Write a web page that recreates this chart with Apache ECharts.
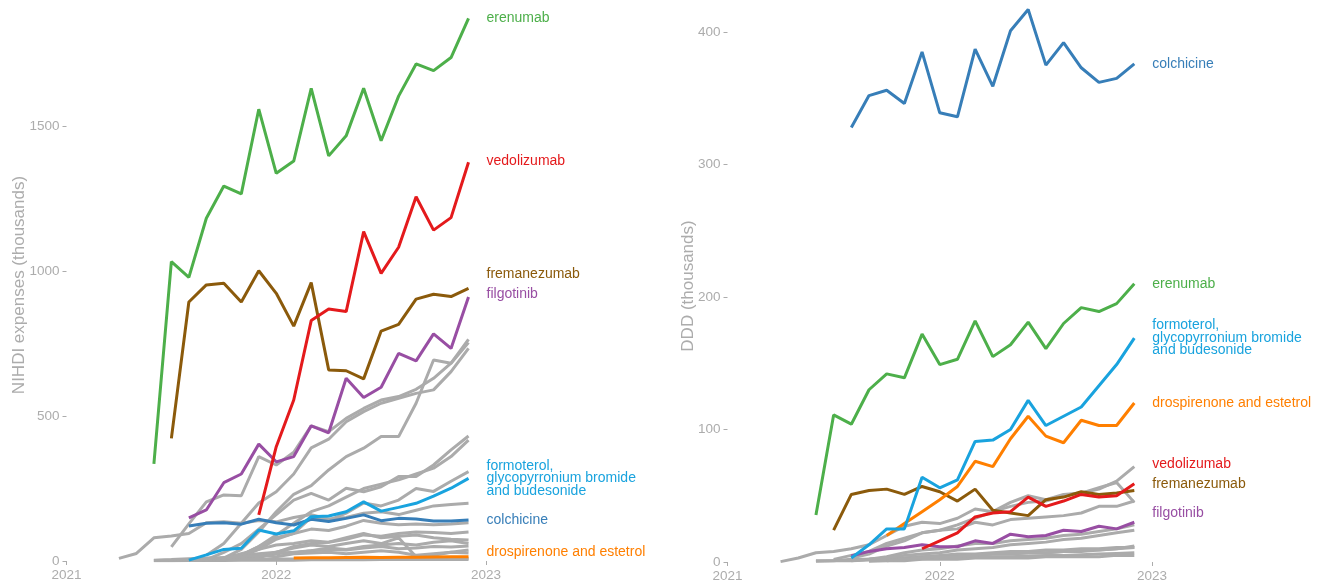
<!DOCTYPE html>
<html><head><meta charset="utf-8">
<script src="https://cdn.jsdelivr.net/npm/echarts@6/dist/echarts.min.js"></script>
<style>html,body{margin:0;padding:0;background:#fff}#c{width:1318px;height:581px}</style>
</head><body><div id="c"></div>
<script>
// ---------- tick labels ----------
const xTickLabels = ['2021', '2022', '2023'];
const leftTitle = 'NIHDI expenses (thousands)';
const rightTitle = 'DDD (thousands)';

// ---------- highlighted series: LEFT panel (NIHDI expenses, thousands) ----------
const L_erenumab = ['2021-06', [335,1032,978,1182,1293,1266,1558,1337,1379,1630,1397,1466,1630,1449,1603,1714,1691,1736,1871]];
const L_vedolizumab = ['2021-12', [159,394,555,829,869,860,1136,992,1082,1256,1141,1184,1375]];
const L_fremanezumab = ['2021-07', [423,893,952,958,893,1001,923,810,960,659,656,628,793,816,903,920,912,940]];
const L_filgotinib = ['2021-08', [149,176,270,300,403,342,360,466,442,630,564,599,716,690,783,733,910]];
const L_formoterol = ['2021-08', [3,21,40,44,107,93,104,153,155,170,204,172,185,199,224,251,285]];
const L_colchicine = ['2021-08', [121,130,132,127,144,132,124,144,136,147,159,139,147,145,138,138,141]];
const L_drospirenone = ['2022-02', [10,11,11,12,13,12,13,13,14,15,15]];

// ---------- highlighted series: RIGHT panel (DDD, thousands) ----------
const R_colchicine = ['2021-08', [328,352,356,346,385,339,336,387,359,401,417,375,392,373,362,365,376]];
const R_erenumab = ['2021-06', [35.5,111,104,130,142,139,172,149,153,182,155,164,181,161,180,192,189,195,210]];
const R_formoterol = ['2021-08', [3,13,25,25,64,56,62,91,92,100,122,103,110,117,133,149,169]];
const R_drospirenone = ['2021-10', [20,29,38,47,57,76,72,93,110,95,90,107,103,103,120]];
const R_vedolizumab = ['2021-12', [10,16,22,34,37,38,49,42,46,51,49,50,59]];
const R_fremanezumab = ['2021-07', [24,51,54,55,51,57,53,46,55,39,37,35,47,49,53,51,52,54]];
const R_filgotinib = ['2021-08', [4.5,8,10,11,13,11.5,11.5,16,14,21,19,20,24,23,27,25,30]];

// ---------- other (grey) products: LEFT ----------
const LG1 = ['2021-04', [9,26,80,86,95,132,135,130,140,135,150,160,145,150,165,170,160,175,190,195,199]];
const LG2 = ['2021-07', [49,128,204,228,225,360,331,375,466,446,492,526,555,567,592,630,682,764]];
const LG3 = ['2021-09', [20,60,130,200,239,300,390,420,480,515,544,561,578,590,653,733]];
const LG4 = ['2021-10', [10,40,100,170,230,260,314,360,389,429,429,544,693,682,753]];
const LG5 = ['2021-09', [5,30,60,110,160,210,233,210,251,239,256,291,291,331,383,431]];
const LG6 = ['2021-11', [20,50,90,130,170,190,220,250,265,280,300,320,360,417]];
const LG7 = ['2021-10', [5,15,40,75,95,150,140,165,200,190,210,250,240,275,308]];
const LG8 = ['2021-10', [5,20,50,80,95,110,105,120,140,130,125,128,125,128,132]];
const LG9 = ['2021-12', [10,30,50,60,65,75,90,85,95,100,98,95,100]];
const LG10 = ['2021-09', [3,10,25,40,55,60,70,65,80,95,80,85,90,80,75,72]];
const LG11 = ['2021-11', [5,15,30,45,55,50,60,70,60,80,15,20,30,38]];
const LG12 = ['2021-06', [2,3,4,5,5,6,6,7,7,7,8,8,8,8,9,9,9,9,9]];
const LG13 = ['2021-06', [1,1,2,2,2,3,3,3,3,4,4,4,4,5,5,5,5,5,5]];
const LG14 = ['2021-09', [5,10,20,25,30,28,35,40,38,45,50,42,45,50,48,52]];
const LG15 = ['2021-08', [2,5,10,15,20,25,30,35,45,40,50,55,60,55,65,70,60]];
const LG16 = ['2021-06', [3,5,8,10,12,15,20,15,25,28,30,25,30,35,30,20,25,30,28]];

// ---------- other (grey) products: RIGHT ----------
const RG1 = ['2021-04', [0.3,3,7,8,10,13,20,27,30,29,33,40,38,45,50,47,51,52,55,61,72]];
const RG2 = ['2021-07', [2,5,8,14,18,22,24,28,33,38,42,45,46,50,52,56,60,45]];
const RG3 = ['2021-08', [3,6,12,16,22,24,25,30,28,32,33,34,35,37,42,42,46]];
const RG4 = ['2021-09', [2,4,7,9,10,12,14,14,16,17,18,20,21,23,25,28]];
const RG5 = ['2021-06', [1,1,2,2,3,3,4,4,5,5,6,6,7,7,8,8,9,10,12]];
const RG6 = ['2021-06', [0.5,1,1,1.5,2,2,2.5,3,3,3.5,4,4,4.5,5,5,5.5,6,6.5,7]];
const RG7 = ['2021-09', [1,2,3,4,5,6,6,7,8,8,9,9,10,10,11,11]];
const RG8 = ['2021-09', [0.5,1,1,2,2,2,3,3,3,3,4,4,4,4,5,5]];
const RG9 = ['2021-08', [1,2,3,5,6,7,9,10,11,13,14,15,17,18,20,22,24]];
const RG10 = ['2021-10', [1,2,3,4,4,5,6,6,7,7,8,9,9,10,11]];

const leftGreys = [LG1,LG2,LG3,LG4,LG5,LG6,LG7,LG8,LG9,LG10,LG11,LG12,LG13,LG14,LG15,LG16];
const rightGreys = [RG1,RG2,RG3,RG4,RG5,RG6,RG7,RG8,RG9,RG10];

// ---------- helpers ----------
function mIdx(s) { const [y, m] = s.split('-').map(Number); return (y - 2021) * 12 + (m - 1); }
function toData(d) { const s = mIdx(d[0]); return d[1].map((v, i) => [s + i, v]); }

const FONT = 'Liberation Sans, Arial, Helvetica, sans-serif';
const GREY = '#ababab';
const AXC = '#acacac';

function greySeries(d, gi) {
  return { type: 'line', xAxisIndex: gi, yAxisIndex: gi, data: toData(d), showSymbol: false, symbol: 'none',
    lineStyle: { color: GREY, width: 3 }, silent: true, z: 2 };
}
function hlSeries(name, label, d, color, gi, dy) {
  return { type: 'line', name: name, xAxisIndex: gi, yAxisIndex: gi, data: toData(d), symbol: 'none',
    lineStyle: { color: color, width: 3 }, z: 3,
    endLabel: { show: true, formatter: label, color: color, fontSize: 14, fontFamily: FONT,
      distance: 18, offset: [0, dy], lineHeight: 12.5, align: 'left' } };
}

function xAxis(gi) {
  return { gridIndex: gi, type: 'value', min: 0, max: 24, interval: 12,
    axisLine: { show: false }, splitLine: { show: false },
    axisTick: { show: true, length: 4, lineStyle: { color: AXC, width: 1 } },
    axisLabel: { formatter: v => xTickLabels[v / 12] || '', color: AXC, fontSize: 13.5, fontFamily: FONT, margin: 7 } };
}
function yAxis(gi, max, interval, showMax) {
  return { gridIndex: gi, type: 'value', min: 0, max: max, interval: interval,
    axisLine: { show: false }, splitLine: { show: false },
    axisTick: { show: true, length: 4, lineStyle: { color: AXC, width: 1 } },
    axisLabel: { formatter: v => (v <= showMax ? String(v) : ''), color: AXC, fontSize: 13.5, fontFamily: FONT, margin: 7 } };
}

const series = [];
// left panel
series.push(hlSeries('drospirenone', 'drospirenone and estetrol', L_drospirenone, '#ff7f00', 0, -5));
leftGreys.forEach(d => series.push(greySeries(d, 0)));
series.push(hlSeries('colchicine', 'colchicine', L_colchicine, '#377eb8', 0, 0));
series.push(hlSeries('formoterol', 'formoterol,\nglycopyrronium bromide\nand budesonide', L_formoterol, '#19a3de', 0, 0));
series.push(hlSeries('filgotinib', 'filgotinib', L_filgotinib, '#984ea3', 0, -3));
series.push(hlSeries('fremanezumab', 'fremanezumab', L_fremanezumab, '#8b5a0b', 0, -14));
series.push(hlSeries('vedolizumab', 'vedolizumab', L_vedolizumab, '#e41a1c', 0, -1));
series.push(hlSeries('erenumab', 'erenumab', L_erenumab, '#4daf4a', 0, 0));
// right panel
rightGreys.forEach(d => series.push(greySeries(d, 1)));
series.push(hlSeries('filgotinib', 'filgotinib', R_filgotinib, '#984ea3', 1, -9));
series.push(hlSeries('fremanezumab', 'fremanezumab', R_fremanezumab, '#8b5a0b', 1, -6));
series.push(hlSeries('vedolizumab', 'vedolizumab', R_vedolizumab, '#e41a1c', 1, -20));
series.push(hlSeries('drospirenone', 'drospirenone and estetrol', R_drospirenone, '#ff7f00', 1, 0));
series.push(hlSeries('formoterol', 'formoterol,\nglycopyrronium bromide\nand budesonide', R_formoterol, '#19a3de', 1, 0));
series.push(hlSeries('erenumab', 'erenumab', R_erenumab, '#4daf4a', 1, 0));
series.push(hlSeries('colchicine', 'colchicine', R_colchicine, '#377eb8', 1, 0));

const chart = echarts.init(document.getElementById('c'), null, { renderer: 'canvas' });
chart.setOption({
  animation: false,
  backgroundColor: '#ffffff',
  textStyle: { fontFamily: FONT },
  grid: [
    { left: 66.5, top: -19, width: 419.5, height: 580, containLabel: false, outerBoundsMode: 'none' },
    { left: 727.5, top: -100.5, width: 424.5, height: 662.5, containLabel: false, outerBoundsMode: 'none' }
  ],
  xAxis: [xAxis(0), xAxis(1)],
  yAxis: [yAxis(0, 2000, 500, 1500), yAxis(1, 500, 100, 400)],
  graphic: [
    { type: 'text', x: 19.5, y: 285, rotation: Math.PI / 2,
      style: { text: leftTitle, fill: AXC, font: '17px ' + FONT, align: 'center', verticalAlign: 'middle' } },
    { type: 'text', x: 688.5, y: 286, rotation: Math.PI / 2,
      style: { text: rightTitle, fill: AXC, font: '17px ' + FONT, align: 'center', verticalAlign: 'middle' } }
  ],
  series: series
});
</script></body></html>
